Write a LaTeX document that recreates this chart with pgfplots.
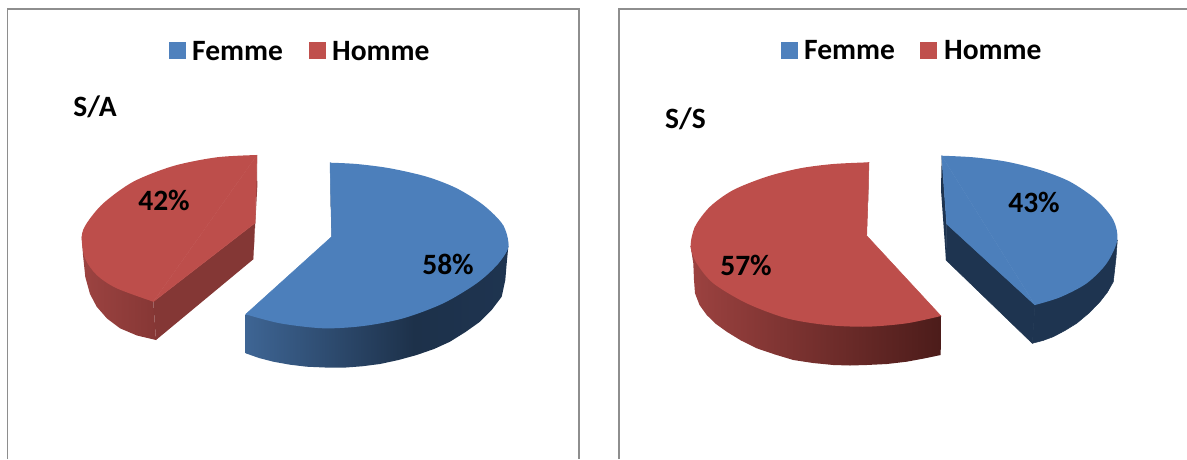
\documentclass[border=0pt]{standalone}
\usepackage{fontspec}
\setmainfont{Carlito}
\usepackage{pgfplots}
\pgfplotsset{compat=1.18}
\definecolor{femme}{HTML}{4F81BD}
\definecolor{homme}{HTML}{C0504D}
\definecolor{topblue}{HTML}{4C7FBB}
\definecolor{topred}{HTML}{BD4E4B}
\definecolor{darkblue}{HTML}{1E3450}
\definecolor{framegray}{HTML}{8E8E8E}
\definecolor{blueL}{HTML}{3E6594}
\definecolor{blueM}{HTML}{1D314A}
\definecolor{redAL}{HTML}{9C4341}
\definecolor{redAR}{HTML}{863735}
\definecolor{redSL}{HTML}{9C4240}
\definecolor{redSR}{HTML}{4C1C1A}
% Horizontal gradients for the curved rims: 25bp to 75bp span the path width.
\pgfdeclarehorizontalshading{rimblue}{100bp}{color(0bp)=(blueL);color(25bp)=(blueL);color(57bp)=(blueM);color(75bp)=(darkblue);color(100bp)=(darkblue)}
\pgfdeclarehorizontalshading{rimredA}{100bp}{color(0bp)=(redAL);color(25bp)=(redAL);color(75bp)=(redAR);color(100bp)=(redAR)}
\pgfdeclarehorizontalshading{rimredS}{100bp}{color(0bp)=(redSL);color(25bp)=(redSL);color(75bp)=(redSR);color(100bp)=(redSR)}
\tikzset{lab/.style={font=\fontsize{29.5}{32}\selectfont\bfseries,inner sep=0pt,text=black},
  face/.style={draw=#1, fill=#1, line width=0.5pt, line join=round}}
\begin{document}
\begin{tikzpicture}
\begin{axis}[
  scale only axis, width=1187pt, height=459pt,
  xmin=0, xmax=1187, ymin=0, ymax=459, y dir=reverse,
  hide axis, enlargelimits=false]

% Invisible extent of the whole picture
\addplot[draw=none] coordinates {(0,0) (1187,459)};

% Panel frames
\addplot[framegray, line width=1.6pt] coordinates {(7.5,459) (7.5,9.2) (579,9.2) (579,459)};
\addplot[framegray, line width=1.6pt] coordinates {(619,459) (619,9.2) (1187,9.2)};

% Legend keys
\addplot[fill=femme, draw=none] coordinates {(169,42) (186,42) (186,59) (169,59)};
\addplot[fill=homme, draw=none] coordinates {(309,42) (326,42) (326,59) (309,59)};
\addplot[fill=femme, draw=none] coordinates {(781,42) (798,42) (798,59) (781,59)};
\addplot[fill=homme, draw=none] coordinates {(920,42) (937,42) (937,59) (920,59)};

% S/A, Homme 42%: rim, back edge, cut face, top
\addplot[shade, shading=rimredA, draw=none] coordinates {(153.3,301.7) (156,340) (137,335.5) (120,328.3) (107,318.5) (96.7,306.7) (90,294) (85.3,277) (83,255) (81.7,236.7)};
\addplot[fill=homme!80!black, draw=none] coordinates {(257,155) (257.3,186.7) (253.3,259.3) (255,223)};
\addplot[fill=homme!69!black, draw=none] coordinates {(153.3,301.7) (156,340) (253.3,259.3) (255,223)};
\addplot[face=topred] coordinates {(255,223) (153.3,301.7) (257,155) (255,223)};
\addplot[fill=topred, draw=none, smooth] coordinates {(153.3,301.7) (116.7,288.3) (96.7,275) (85,258.3) (81.7,236.7) (86.7,223.3) (103.3,203.3) (133.3,181.7) (173.3,166) (216.7,157.3) (257,155)};

% S/A, Femme 58%
\addplot[fill=darkblue, draw=none] coordinates {(330,162.7) (330.7,206.7) (334,236.7) (331.7,236.7)};
\addplot[shade, shading=rimblue, draw=none] coordinates {(245.7,314.3) (245.7,353.3) (259,358) (273.3,361.7) (290,364.7) (306.7,366.7) (325,367.5) (343.3,367.7) (362,366.3) (380,364) (398.5,360) (416.7,355) (434,349) (450,341.7) (465.5,332) (480,321.7) (492,309.5) (501.7,296.7) (505.3,280) (506.7,263.3) (508.3,246.7)};
\addplot[face=topblue] coordinates {(331.7,236.7) (245.7,314.3) (508.3,246.7) (330,162.7) (331.7,236.7)};
\addplot[fill=topblue, draw=none, smooth] coordinates {(245.7,314.3) (280,323.3) (323.3,328.3) (363.3,326) (403.3,318.3) (443.3,303.3) (476.7,283.3) (497,265) (508.3,246.7) (503,225)};
\addplot[fill=topblue, draw=none, smooth] coordinates {(497,265) (508.3,246.7) (503,225) (483.3,205) (456.7,188.3) (426.7,176.7) (390,168.3) (356.7,164) (330,162.7)};

% S/S, Homme 57%
\addplot[fill=homme!80!black, draw=none] coordinates {(869,162.3) (868.3,200) (864.3,235.7) (866.7,235.7)};
\addplot[shade, shading=rimredS, draw=none] coordinates {(941,316) (940.7,355) (924,358.5) (906.7,361.7) (887,364) (866.7,365) (850,365.5) (833.3,365) (813,363) (793.3,360) (775,354.5) (756.7,348.3) (741,340.5) (726.7,331.7) (716,324) (706.7,315) (699.5,305) (695,293.3) (694,280) (693.3,263.3) (690.7,246.7)};
\addplot[face=topred] coordinates {(866.7,235.7) (941,316) (690.7,246.7) (869,162.3) (866.7,235.7)};
\addplot[fill=topred, draw=none, smooth] coordinates {(941,316) (906.7,323.3) (866.7,326.7) (826.7,325) (786.7,318.3) (746.7,303.3) (713.3,283.3) (696.7,263.3) (690.7,246.7) (695,226.7)};
\addplot[fill=topred, draw=none, smooth] coordinates {(696.7,263.3) (690.7,246.7) (695,226.7) (710,206.7) (733.3,190) (766.7,176.7) (800,168.3) (833.3,164) (869,162.3)};

% S/S, Femme 43%
\addplot[fill=darkblue, draw=none] coordinates {(941.7,155.7) (941,190) (946,260) (946.7,224)};
\addplot[face=darkblue] coordinates {(946.7,224) (1035,305) (1032.3,343.3) (946,260) (946.7,224)};
\addplot[face=darkblue] coordinates {(1035,305) (1032.3,343.3) (1043,340.5) (1053.3,336.7) (1065,330.5) (1076.7,323.3) (1089,313) (1100,301.7) (1107.5,292) (1113.3,281.7) (1116,258) (1117.3,240) (1035,305)};
\addplot[face=topblue] coordinates {(946.7,224) (1035,305) (941.7,155.7) (946.7,224)};
\addplot[fill=topblue, draw=none, smooth] coordinates {(1035,305) (1060,297.3) (1086.7,283.3) (1106.7,263.3) (1117.3,240) (1113.3,220) (1096.7,200) (1070,181.7) (1040,170) (1006.7,161.7) (973.3,157.3) (941.7,155.7)};

% Legend text, panel titles and percentages
\node[lab, anchor=west] at (axis cs:192,51) {Femme};
\node[lab, anchor=west] at (axis cs:332,51) {Homme};
\node[lab, anchor=west] at (axis cs:804,50) {Femme};
\node[lab, anchor=west] at (axis cs:944,50) {Homme};
\node[lab] at (axis cs:95,107) {S/A};
\node[lab] at (axis cs:685.5,119) {S/S};
\node[lab] at (axis cs:164,200) {42\%};
\node[lab] at (axis cs:448,264) {58\%};
\node[lab] at (axis cs:1034,202) {43\%};
\node[lab] at (axis cs:746,265) {57\%};
\end{axis}
\end{tikzpicture}
\end{document}
